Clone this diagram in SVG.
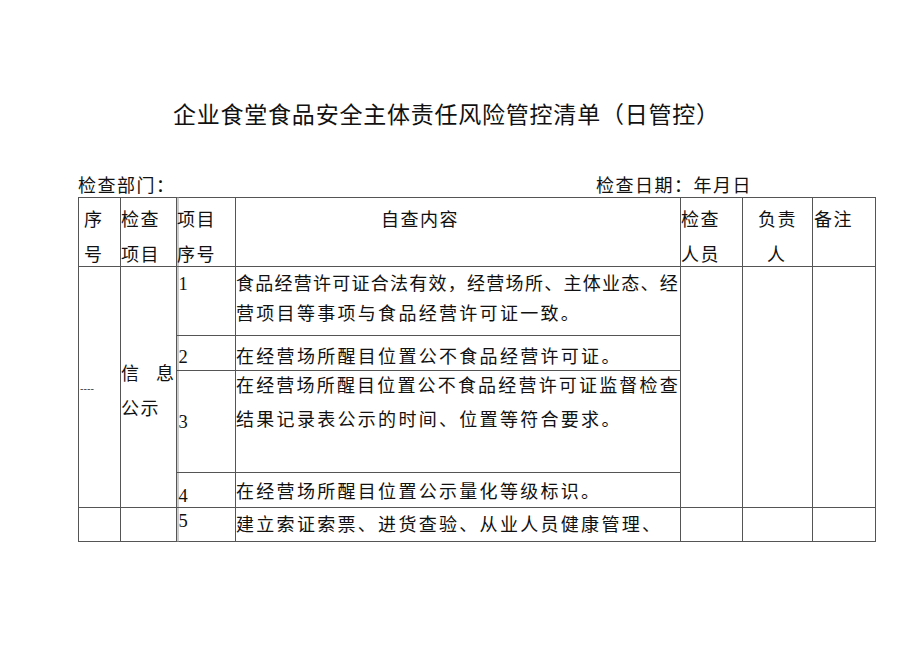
<svg xmlns="http://www.w3.org/2000/svg" width="920" height="651" viewBox="0 0 920 651">
<style>
.t{font-family:"Noto Sans CJK SC","Noto Sans CJK JP",sans-serif;font-size:18px;fill:#111;letter-spacing:2.3px}
.h{font-family:"Noto Sans CJK SC","Noto Sans CJK JP",sans-serif;font-size:18px;fill:#111;letter-spacing:1.5px}
.n{font-family:"Liberation Serif",serif;font-size:18.5px;fill:#111}
.title{font-family:"Noto Sans CJK SC","Noto Sans CJK JP",sans-serif;font-size:23px;fill:#111}
.g line{stroke:#555;stroke-width:1}
</style>
<rect width="920" height="651" fill="#fff"/>
<text class="title" x="173" y="123" textLength="546" lengthAdjust="spacing">企业食堂食品安全主体责任风险管控清单（日管控）</text>
<text class="h" x="78" y="192">检查部门：</text>
<text class="h" x="596" y="192" textLength="156" lengthAdjust="spacing">检查日期：年月日</text>
<g id="table-grid" class="g">
<rect x="78.5" y="197.5" width="797" height="344" fill="none" stroke="#555" stroke-width="1"/>
<line x1="120.5" y1="197" x2="120.5" y2="542"/>
<line x1="176.5" y1="197" x2="176.5" y2="542"/>
<line x1="178" y1="197" x2="178" y2="542" style="stroke:#999"/>
<line x1="235.5" y1="197" x2="235.5" y2="542"/>
<line x1="680.5" y1="197" x2="680.5" y2="542"/>
<line x1="742.5" y1="197" x2="742.5" y2="542"/>
<line x1="812.5" y1="197" x2="812.5" y2="542"/>
<line x1="78" y1="266.5" x2="876" y2="266.5"/>
<line x1="78" y1="507.5" x2="876" y2="507.5"/>
<line x1="176" y1="335.5" x2="680" y2="335.5"/>
<line x1="176" y1="370.5" x2="680" y2="370.5"/>
<line x1="176" y1="472.5" x2="680" y2="472.5"/>
</g>
<g id="header">
<text class="h" x="84" y="226">序</text>
<text class="h" x="84" y="261">号</text>
<text class="h" x="121" y="226">检查</text>
<text class="h" x="121" y="261">项目</text>
<text class="h" x="177" y="226">项目</text>
<text class="h" x="177" y="261">序号</text>
<text class="h" x="381" y="226">自查内容</text>
<text class="h" x="681" y="226">检查</text>
<text class="h" x="681" y="261">人员</text>
<text class="h" x="758" y="226">负责</text>
<text class="h" x="767" y="261">人</text>
<text class="h" x="814" y="226">备注</text>
</g>
<g id="group-1">
<text x="80" y="392" style="font-family:'Liberation Sans',sans-serif;font-size:10.5px;fill:#444">----</text>
<text class="h" x="121" y="380">信</text>
<text class="h" x="156" y="380">息</text>
<text class="h" x="121" y="415">公示</text>
</g>
<g id="item-1">
<text class="n" x="178.5" y="290">1</text>
<text class="t" x="236" y="290" textLength="444" lengthAdjust="spacing">食品经营许可证合法有效，经营场所、主体业态、经</text>
<text class="t" x="236" y="320">营项目等事项与食品经营许可证一致。</text>
</g>
<g id="item-2">
<text class="n" x="178.5" y="363">2</text>
<text class="t" x="236" y="363">在经营场所醒目位置公不食品经营许可证。</text>
</g>
<g id="item-3">
<text class="n" x="178.5" y="428">3</text>
<text class="t" x="236" y="392" textLength="444" lengthAdjust="spacing">在经营场所醒目位置公不食品经营许可证监督检查</text>
<text class="t" x="236" y="426">结果记录表公示的时间、位置等符合要求。</text>
</g>
<g id="item-4">
<text class="n" x="178.5" y="502">4</text>
<text class="t" x="236" y="498">在经营场所醒目位置公示量化等级标识。</text>
</g>
<g id="item-5">
<text class="n" x="178.5" y="527">5</text>
<text class="t" x="236" y="531">建立索证索票、进货查验、从业人员健康管理、</text>
</g>
</svg>
